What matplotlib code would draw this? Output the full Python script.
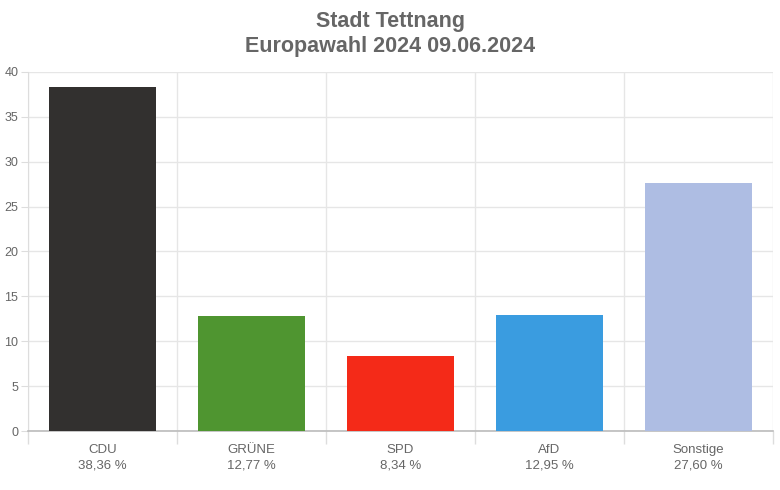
import matplotlib.pyplot as plt
import numpy as np

plt.rcParams['font.family'] = ['Liberation Sans', 'DejaVu Sans']

parties = ['CDU', 'GRÜNE', 'SPD', 'AfD', 'Sonstige']
values = [38.36, 12.77, 8.34, 12.95, 27.60]
colors = ['#32302f', '#4f9530', '#f42a18', '#3a9ce0', '#aebde3']
yticks = [0, 5, 10, 15, 20, 25, 30, 35, 40]

fig = plt.figure(figsize=(7.8, 4.9), dpi=100)
ax = fig.add_axes([0.036, 0.1204, 0.955, 0.733])

x = np.arange(len(parties))
ax.bar(x, values, width=0.72, color=colors, zorder=3)

ax.set_xlim(-0.5, len(parties) - 0.5)
ax.set_ylim(0, 40)
ax.set_yticks(yticks)

# category labels under each bar, boundaries as minor ticks with grid
labels = [f'{p}\n{v:.2f} %'.replace('.', ',') for p, v in zip(parties, values)]
ax.set_xticks(x)
ax.set_xticklabels(labels, color='#666666', fontsize=9.5, linespacing=1.45)
ax.set_xticks(np.arange(-0.5, len(parties)), minor=True)
ax.tick_params(axis='x', which='major', length=0, pad=9)
ax.tick_params(axis='x', which='minor', length=9, color='#dddddd', width=1)
ax.tick_params(axis='y', length=5, color='#dddddd', labelsize=9,
               labelcolor='#666666', pad=2)

ax.grid(True, axis='y', color='#e6e6e6', linewidth=1, zorder=0)
ax.grid(True, axis='x', which='minor', color='#e6e6e6', linewidth=1, zorder=0)

for side in ['top', 'right']:
    ax.spines[side].set_visible(False)
ax.spines['left'].set_color('#dddddd')
ax.spines['bottom'].set_color('#bbbbbb')
ax.spines['bottom'].set_linewidth(1.2)

fig.suptitle('Stadt Tettnang\nEuropawahl 2024 09.06.2024', y=0.978,
             fontsize=15.5, fontweight='bold', color='#666666', linespacing=1.25)

fig.savefig('out.png', dpi=100)
